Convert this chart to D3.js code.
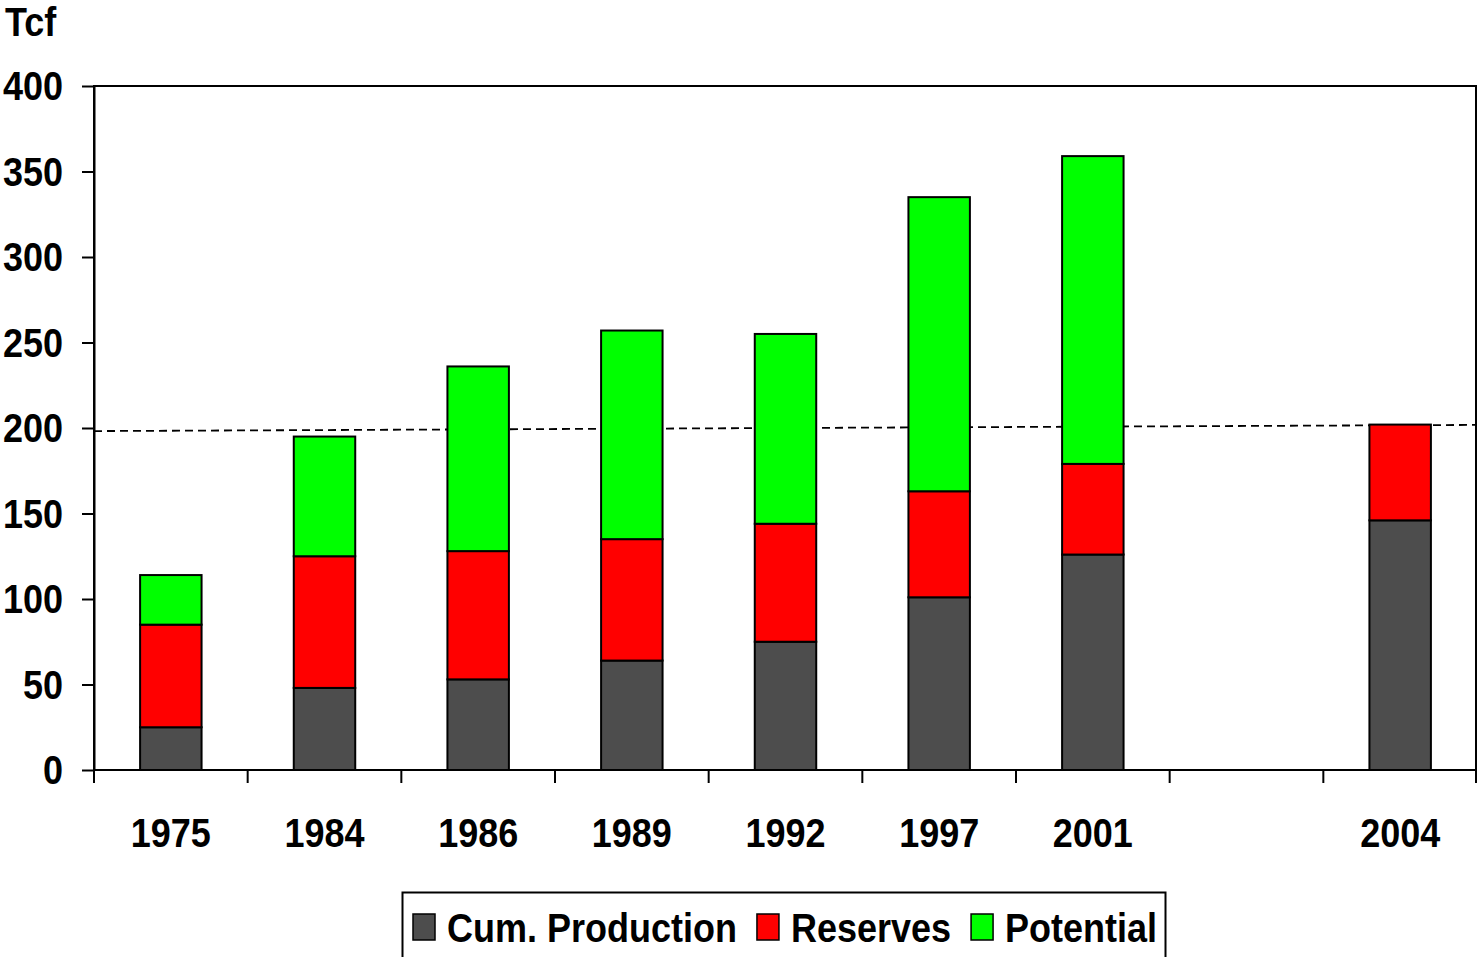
<!DOCTYPE html>
<html>
<head>
<meta charset="utf-8">
<script src="https://cdn.jsdelivr.net/npm/d3@7"></script>
<style>
  body { margin: 0; background: #fff; }
  text { font-family: "Liberation Sans Narrow", "Arial Narrow", "Liberation Sans", Arial, sans-serif; font-weight: bold; }
</style>
</head>
<body>
<script>
// categories (empty slot between 2001 and 2004)
const years = ["1975", "1984", "1986", "1989", "1992", "1997", "2001", "", "2004"];
const cumProduction = [25, 48, 53, 64, 75, 101, 126, null, 146];
const reserves = [60, 77, 75, 71, 69, 62, 53, null, 56];
const potential = [29, 70, 108, 122, 111, 172, 180, null, 0];
const seriesNames = ["Cum. Production", "Reserves", "Potential"];
const seriesColors = ["#4d4d4d", "#ff0000", "#00ff00"];
const yTicks = [0, 50, 100, 150, 200, 250, 300, 350, 400];
const refLine = [198.2, 201.8]; // dashed line, left and right ends

const W = 1477, H = 957;
const margin = { top: 86, right: 0, bottom: 187, left: 94 };
const narrow = 0.9; // squeeze to imitate a narrow bold font

const svg = d3.select("body").append("svg")
  .attr("width", W).attr("height", H);

// text helper: placed by translate, then squeezed horizontally
function label(g, x0, y0, str, anchor) {
  return g.append("text")
    .attr("transform", `translate(${x0},${y0}) scale(${narrow},1)`)
    .attr("text-anchor", anchor || "start")
    .attr("font-size", 40)
    .text(str);
}

const x = d3.scaleBand().domain(years.map((d, i) => i))
  .range([margin.left, W - margin.right]).padding(0);
const y = d3.scaleLinear().domain([0, 400]).range([H - margin.bottom, margin.top]);

// stacked data
const rows = years.map((yr, i) => ({ i, yr, a: cumProduction[i], b: reserves[i], c: potential[i] }))
  .filter(d => d.a != null);
const stack = d3.stack().keys(["a", "b", "c"])(rows);

const barW = x.bandwidth() * 0.4;

// plot frame
svg.append("rect")
  .attr("x", margin.left).attr("y", y(400))
  .attr("width", W - margin.right - margin.left - 1).attr("height", y(0) - y(400))
  .attr("fill", "none").attr("stroke", "#000").attr("stroke-width", 2);

// dashed reference line
svg.append("line")
  .attr("x1", x.range()[0]).attr("x2", x.range()[1])
  .attr("y1", y(refLine[0])).attr("y2", y(refLine[1]))
  .attr("stroke", "#000").attr("stroke-width", 1.8)
  .attr("stroke-dasharray", "8,5");

// bars
stack.forEach((layer, k) => {
  svg.append("g").selectAll("rect")
    .data(layer.filter(d => d[1] - d[0] > 0))
    .join("rect")
    .attr("x", d => x(d.data.i) + (x.bandwidth() - barW) / 2)
    .attr("width", barW)
    .attr("y", d => y(d[1]))
    .attr("height", d => y(d[0]) - y(d[1]))
    .attr("fill", seriesColors[k])
    .attr("stroke", "#000").attr("stroke-width", 2);
});

// y axis
const yAxis = svg.append("g")
  .attr("transform", `translate(${margin.left},0)`)
  .call(d3.axisLeft(y).tickValues(yTicks).tickSize(12).tickFormat("").tickSizeOuter(0));
yAxis.select(".domain").attr("stroke-width", 2);
yAxis.selectAll(".tick line").attr("stroke-width", 2);
yTicks.forEach(v => label(svg, 63, y(v) + 14, v, "end"));

// x axis: ticks on slot boundaries
const xAxisG = svg.append("g").attr("transform", `translate(0,${y(0)})`);
xAxisG.append("line")
  .attr("x1", x.range()[0]).attr("x2", x.range()[1])
  .attr("stroke", "#000").attr("stroke-width", 2);
const bounds = years.map((d, i) => x(i)).concat([x.range()[1] - 1]);
xAxisG.selectAll("line.tk").data(bounds).join("line")
  .attr("class", "tk")
  .attr("x1", d => d).attr("x2", d => d)
  .attr("y1", 0).attr("y2", 13)
  .attr("stroke", "#000").attr("stroke-width", 2);
years.forEach((d, i) => {
  if (d) label(xAxisG, x(i) + x.bandwidth() / 2, 77, d, "middle");
});

// unit label
label(svg, 5, 36, "Tcf");

// legend
const leg = svg.append("g");
leg.append("rect")
  .attr("x", 402.5).attr("y", 892.5).attr("width", 763).attr("height", 80)
  .attr("fill", "#fff").attr("stroke", "#000").attr("stroke-width", 2);
let lx = 413;
seriesNames.forEach((name, k) => {
  leg.append("rect")
    .attr("x", lx).attr("y", 914).attr("width", 22).attr("height", 26)
    .attr("fill", seriesColors[k]).attr("stroke", "#000").attr("stroke-width", 1.5);
  const t = label(leg, lx + 34, 942, name);
  lx += 34 + t.node().getComputedTextLength() * narrow + 20;
});
</script>
</body>
</html>
